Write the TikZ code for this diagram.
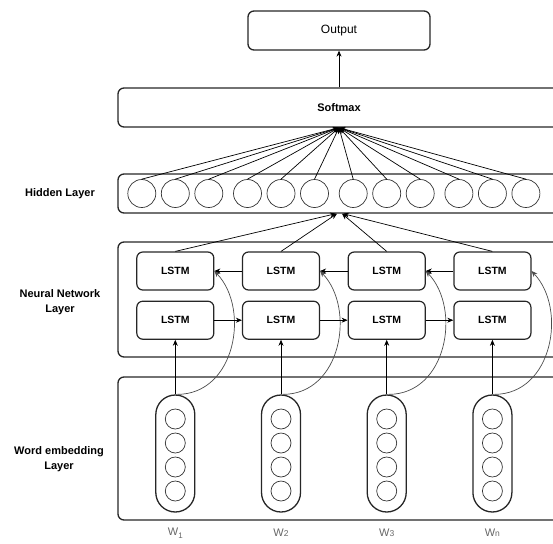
\documentclass[tikz,border=0pt]{standalone}
\usepackage{fontspec}
\setmainfont{Liberation Sans}
\usetikzlibrary{positioning,arrows.meta}

% small index digits under the word labels
\newcommand{\wlow}[1]{\raisebox{-2.5pt}{\fontsize{8}{8}\selectfont #1}}
\newcommand{\wsmall}[1]{{\fontsize{8.5}{9}\selectfont #1}}

\begin{document}
\begin{tikzpicture}[
x=1pt, y=-1pt,
layerbox/.style={rectangle, rounded corners=6pt, draw=black!85, line width=1.3pt, minimum width=442pt, inner sep=0pt},
lstm/.style={rectangle, rounded corners=6pt, draw=black!85, line width=1.2pt, minimum width=77pt, minimum height=38pt, inner sep=0pt, font=\bfseries\fontsize{10.5}{12}\selectfont},
hunit/.style={circle, draw=black!80, line width=0.7pt, minimum size=28pt, inner sep=0pt},
emb/.style={circle, draw=black!80, line width=0.7pt, minimum size=20pt, inner sep=0pt},
capsule/.style={rectangle, rounded corners=19.5pt, draw=black!85, line width=1.3pt, minimum width=39pt, minimum height=117pt, inner sep=0pt},
sidelbl/.style={align=center, font=\bfseries\fontsize{11}{15}\selectfont},
wlbl/.style={text=black!60, font=\fontsize{11}{13}\selectfont},
arrow/.style={-{Stealth[length=6pt,width=5pt]}, line width=0.7pt}
]
\useasboundingbox (0,0) rectangle (553,543);
\clip (0,0) rectangle (553,543);

% layer boxes (they run past the right edge)
\node[layerbox, minimum width=182pt, minimum height=39pt, font=\fontsize{12}{14}\selectfont] (output) at (339,30.5) {Output};
\node[layerbox, minimum height=39pt, font=\bfseries\fontsize{11}{13}\selectfont] (softmax) at (339,107.5) {Softmax};
\node[layerbox, minimum height=39pt] (hidden) at (339,193.5) {};
\node[layerbox, minimum height=115pt] (network) at (339,299.5) {};
\node[layerbox, minimum height=143pt] (embedding) at (339,448.5) {};

\draw[arrow] (softmax) -- (output);

\node[sidelbl] (hlbl) at (60,193.5) {Hidden Layer};
\node[sidelbl] (nlbl) at (60,302) {Neural Network\\Layer};
\node[sidelbl] (wordlbl) at (59,459) {Word embedding\\Layer};

% hidden units, all feeding softmax
\foreach \i in {1,...,4}{
  \pgfmathsetmacro{\cx}{175.3+(\i-1)*105.7}
  \foreach \j in {1,2,3}{
    \node[hunit] (h\i\j) at ({\cx+(\j-2)*33.5},193.5) {};
    \draw[arrow] (h\i\j.north) -- (softmax.south);
  }
}

% LSTM columns and word vectors
\foreach \i/\w in {1/W\wlow{1}, 2/W\wsmall{2}, 3/W\wsmall{3}, 4/W\wsmall{n}}{
  \pgfmathsetmacro{\cx}{175.3+(\i-1)*105.7}
  \node[lstm] (t\i) at (\cx,271) {LSTM};
  \node[lstm, below=10pt of t\i] (b\i) {LSTM};
  \node[capsule] (c\i) at (\cx,453.5) {};
  \foreach \k in {1,...,4}
    \node[emb] (e\i\k) at (\cx,{395+24*\k}) {};
  \node[wlbl] (w\i) at (\cx,533) {\w};

  \draw[arrow] (c\i) -- (b\i);
  \draw[arrow, draw=black!70] ([xshift=2pt]c\i.north) .. controls +(58,0) and +(36,38) .. (t\i.east);
}

% forward and backward passes
\foreach \i in {1,2,3}{
  \pgfmathtruncatemacro{\n}{\i+1}
  \draw[arrow] (b\i) -- (b\n);
  \draw[arrow] (t\n) -- (t\i);
}

\draw[arrow] (t1.north) -- ([xshift=-3pt]hidden.south);
\draw[arrow] (t2.north) -- ([xshift=-2pt]hidden.south);
\draw[arrow] (t3.north) -- ([xshift=3pt]hidden.south);
\draw[arrow] (t4.north) -- ([xshift=4pt]hidden.south);

\end{tikzpicture}
\end{document}
